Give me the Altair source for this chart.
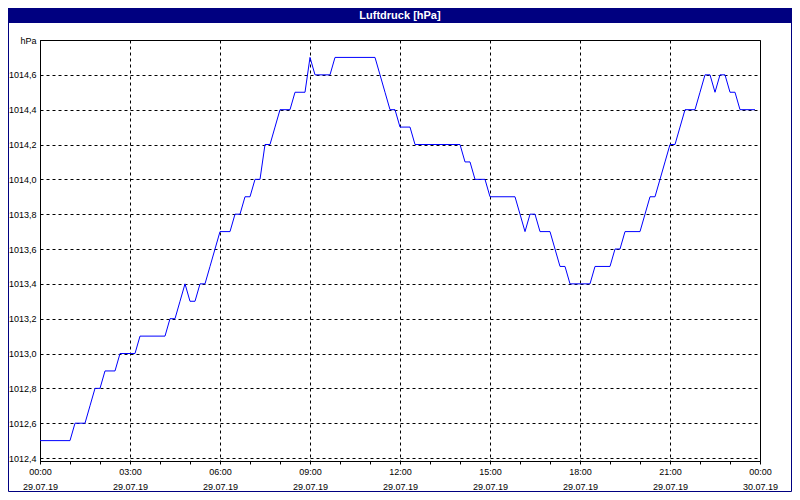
import json
import altair as alt
import pandas as pd

# ---------------- data ----------------
title_text = "Luftdruck [hPa]"
y_unit = "hPa"
step_minutes = 10  # sampling interval of the series, starting 29.07.19 00:00

# air pressure, one value every 10 minutes (00:00 ... 23:50)
pressure = [
    1012.5, 1012.5, 1012.5, 1012.5, 1012.5, 1012.5,   # 00h
    1012.5, 1012.6, 1012.6, 1012.6, 1012.7, 1012.8,   # 01h
    1012.8, 1012.9, 1012.9, 1012.9, 1013.0, 1013.0,   # 02h
    1013.0, 1013.0, 1013.1, 1013.1, 1013.1, 1013.1,   # 03h
    1013.1, 1013.1, 1013.2, 1013.2, 1013.3, 1013.4,   # 04h
    1013.3, 1013.3, 1013.4, 1013.4, 1013.5, 1013.6,   # 05h
    1013.7, 1013.7, 1013.7, 1013.8, 1013.8, 1013.9,   # 06h
    1013.9, 1014.0, 1014.0, 1014.2, 1014.2, 1014.3,   # 07h
    1014.4, 1014.4, 1014.4, 1014.5, 1014.5, 1014.5,   # 08h
    1014.7, 1014.6, 1014.6, 1014.6, 1014.6, 1014.7,   # 09h
    1014.7, 1014.7, 1014.7, 1014.7, 1014.7, 1014.7,   # 10h
    1014.7, 1014.7, 1014.6, 1014.5, 1014.4, 1014.4,   # 11h
    1014.3, 1014.3, 1014.3, 1014.2, 1014.2, 1014.2,   # 12h
    1014.2, 1014.2, 1014.2, 1014.2, 1014.2, 1014.2,   # 13h
    1014.2, 1014.1, 1014.1, 1014.0, 1014.0, 1014.0,   # 14h
    1013.9, 1013.9, 1013.9, 1013.9, 1013.9, 1013.9,   # 15h
    1013.8, 1013.7, 1013.8, 1013.8, 1013.7, 1013.7,   # 16h
    1013.7, 1013.6, 1013.5, 1013.5, 1013.4, 1013.4,   # 17h
    1013.4, 1013.4, 1013.4, 1013.5, 1013.5, 1013.5,   # 18h
    1013.5, 1013.6, 1013.6, 1013.7, 1013.7, 1013.7,   # 19h
    1013.7, 1013.8, 1013.9, 1013.9, 1014.0, 1014.1,   # 20h
    1014.2, 1014.2, 1014.3, 1014.4, 1014.4, 1014.4,   # 21h
    1014.5, 1014.6, 1014.6, 1014.5, 1014.6, 1014.6,   # 22h
    1014.5, 1014.5, 1014.4, 1014.4, 1014.4, 1014.4,   # 23h
]

# x axis: minor ticks every hour, labelled ticks every 3 hours
x_tick_minutes = list(range(0, 24 * 60 + 1, 60))
time_labels = ["00:00", "03:00", "06:00", "09:00", "12:00",
               "15:00", "18:00", "21:00", "00:00"]
date_labels = ["29.07.19", "29.07.19", "29.07.19", "29.07.19", "29.07.19",
               "29.07.19", "29.07.19", "29.07.19", "30.07.19"]

# y axis ticks (the top one shows the unit)
y_ticks = [1012.4, 1012.6, 1012.8, 1013.0, 1013.2, 1013.4,
           1013.6, 1013.8, 1014.0, 1014.2, 1014.4, 1014.6, 1014.8]

minutes = [i * step_minutes for i in range(len(pressure))]
df = pd.DataFrame({"minute": minutes, "hPa": pressure})

# ---------------- style ----------------
NAVY = "#000080"
FONT = "Liberation Sans"
LABEL_SIZE = 9
W, H = 720, 421
PAD = {"left": 32, "top": 32, "right": 32, "bottom": 31}

x_label_expr = (
    f"datum.value % 180 == 0 ? "
    f"[{json.dumps(time_labels)}[datum.value / 180], "
    f"{json.dumps(date_labels)}[datum.value / 180]] : ''"
)
y_label_expr = (
    f"datum.value >= {y_ticks[-1] - 0.01} ? '{y_unit}' : "
    "replace(format(datum.value, '.1f'), '.', ',')"
)

x_enc = alt.X(
    "minute:Q",
    scale=alt.Scale(domain=[0, 24 * 60], nice=False, zero=False),
    axis=alt.Axis(
        title=None,
        values=x_tick_minutes,
        labelExpr=x_label_expr,
        labelOverlap=False,
        labelFlush=False,
        labelBound=False,
        labelLineHeight=15,
        labelPadding=3,
        labelFont=FONT,
        labelFontSize=LABEL_SIZE,
        labelColor="black",
        tickSize=3,
        tickColor="black",
        domainColor="black",
        grid=True,
        gridColor="black",
        gridDash=[3, 3],
        gridWidth=1,
        gridOpacity={"condition": {"test": "datum.value % 180 == 0", "value": 1}, "value": 0},
    ),
)
y_enc = alt.Y(
    "hPa:Q",
    scale=alt.Scale(domain=[1012.383, 1014.8], nice=False, zero=False),
    axis=alt.Axis(
        title=None,
        values=y_ticks,
        labelExpr=y_label_expr,
        labelOverlap=False,
        labelFlush=False,
        labelPadding=4,
        labelFont=FONT,
        labelFontSize=LABEL_SIZE,
        labelColor="black",
        ticks=False,
        domainColor="black",
        grid=True,
        gridColor="black",
        gridDash=[3, 3],
        gridWidth=1,
    ),
)

line = alt.Chart(df).mark_line(color="#0000FF", strokeWidth=1, interpolate="linear").encode(
    x=x_enc, y=y_enc
)

one = alt.Data(values=[{"t": title_text}])

title_bar = alt.Chart(one).mark_rect(color=NAVY).encode(
    x=alt.value(-PAD["left"]),
    x2=alt.value(W + PAD["right"]),
    y=alt.value(-PAD["top"]),
    y2=alt.value(-17),
)
title_txt = alt.Chart(one).mark_text(
    color="white", font=FONT, fontSize=11, fontWeight="bold", align="center", baseline="middle"
).encode(
    x=alt.value(W / 2),
    y=alt.value(-24.5),
    text="t:N",
)
frame = alt.Chart(one).mark_rect(
    fillOpacity=0, stroke=NAVY, strokeWidth=1
).encode(
    x=alt.value(-PAD["left"] + 0.5),
    x2=alt.value(W + PAD["right"] - 0.5),
    y=alt.value(-PAD["top"] + 0.5),
    y2=alt.value(H + PAD["bottom"] - 0.5),
)

chart = (
    alt.layer(line, title_bar, title_txt, frame)
    .properties(
        width=W,
        height=H,
        autosize=alt.AutoSizeParams(type="none"),
        padding=PAD,
        background="white",
    )
    .configure_view(stroke="black", strokeWidth=1)
)

chart.save("out.html", embed_options={"renderer": "svg", "actions": False})
